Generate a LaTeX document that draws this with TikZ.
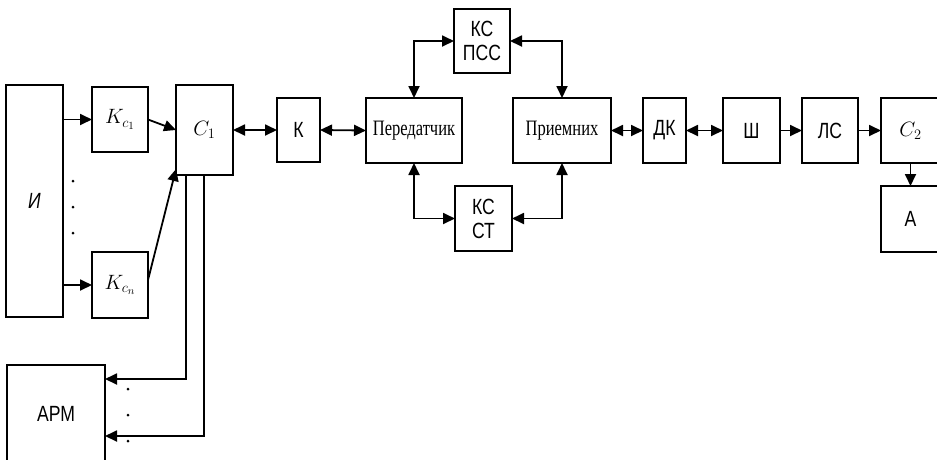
\documentclass[tikz,border=0pt]{standalone}
\usepackage{fontspec}
\setmainfont{Liberation Serif}
\newfontfamily\lblsans[FakeStretch=0.8]{Liberation Sans}
\newfontfamily\lblserif[FakeStretch=0.75]{Liberation Serif}
\usetikzlibrary{arrows.meta,calc}
\begin{document}
\begin{tikzpicture}[x=1pt,y=-1pt,
  blk/.style={draw,line width=1.8pt,inner sep=0pt,outer sep=0pt,align=center,
    font=\lblsans\fontsize{22}{24}\selectfont},
  sfont/.style={font=\lblserif\fontsize{22}{24}\selectfont},
  mfont/.style={font=\fontsize{22}{24}\selectfont},
  arr/.style={line width=1.8pt,-{Triangle[length=12pt,width=11pt]}},
  darr/.style={line width=1.8pt,{Triangle[length=12pt,width=11pt]}-{Triangle[length=12pt,width=11pt]}},
  dotm/.style={fill,circle,inner sep=0pt,minimum size=3pt}]
\useasboundingbox (0,0) rectangle (937,459);

% boxes
\node[blk,minimum width=57pt,minimum height=232pt] (ii) at (34.5,201) {\itshape И};
\node[blk,mfont,minimum width=56pt,minimum height=65pt] (kc1) at (120,119.5) {$K_{c_1}$};
\node[blk,mfont,minimum width=56pt,minimum height=66pt] (kcn) at (120,285) {$K_{c_n}$};
\node[blk,mfont,minimum width=57pt,minimum height=90pt] (c1) at (204.5,130) {$C_1$};
\node[blk,minimum width=43pt,minimum height=64pt] (k) at (298.5,130) {К};
\node[blk,sfont,minimum width=96pt,minimum height=65pt] (tx) at (414,130.5) {Передатчик};
\node[blk,minimum width=56pt,minimum height=64pt] (psc) at (482,41) {КС\\ПСС};
\node[blk,minimum width=57pt,minimum height=65pt] (cst) at (483.5,218.5) {КС\\СТ};
\node[blk,sfont,minimum width=98pt,minimum height=65pt] (rx) at (562,130.5) {Приемних};
\node[blk,minimum width=43pt,minimum height=65pt] (dk) at (664.5,130.5) {ДК};
\node[blk,minimum width=57pt,minimum height=65pt] (sh) at (751.5,130.5) {Ш};
\node[blk,minimum width=56pt,minimum height=65pt] (ls) at (830,130.5) {ЛС};
\node[blk,mfont,minimum width=59pt,minimum height=65pt] (c2) at (910.5,130.5) {$C_2$};
\node[blk,minimum width=59pt,minimum height=66pt] (a) at (910.5,219) {А};
\node[blk,minimum width=98pt,minimum height=98pt] (arm) at (56,414) {АРМ};

% connectors, left part
\draw[arr] (ii.east |- kc1) -- (kc1.west);
\draw[arr] (ii.east |- kcn) -- (kcn.west);
\draw[arr] (kc1.east) -- (c1.west);
\draw[arr] ([yshift=5pt]kcn.east) -- ([yshift=6pt]c1.south west);
\draw[darr] (c1.east) -- (k.west);
\draw[darr] (k.east) -- (tx.west);

% transmitter / receiver loop
\draw[darr] (tx.north) |- (psc.west);
\draw[darr] (psc.east) -| (rx.north);
\draw[darr] (tx.south) |- (cst.west);
\draw[darr] (cst.east) -| (rx.south);

% right chain
\draw[darr] (rx.east) -- (dk.west);
\draw[darr] (dk.east) -- (sh.west);
\draw[arr] (sh.east) -- (ls.west);
\draw[arr] (ls.east) -- (c2.west);
\draw[arr] (c2.south) -- (a.north);

% C1 to ARM
\draw[arr] ([xshift=10pt]c1.south west) |- ([yshift=-14pt]arm.north east);
\draw[arr] ([xshift=28pt]c1.south west) |- ([yshift=-71pt]arm.north east);

% dots
\node[dotm] (d1) at (73,181) {};
\node[dotm] (d2) at (73,207) {};
\node[dotm] (d3) at (73,233) {};
\node[dotm] (d4) at (128,389) {};
\node[dotm] (d5) at (128,415) {};
\node[dotm] (d6) at (128,441) {};
\end{tikzpicture}
\end{document}
